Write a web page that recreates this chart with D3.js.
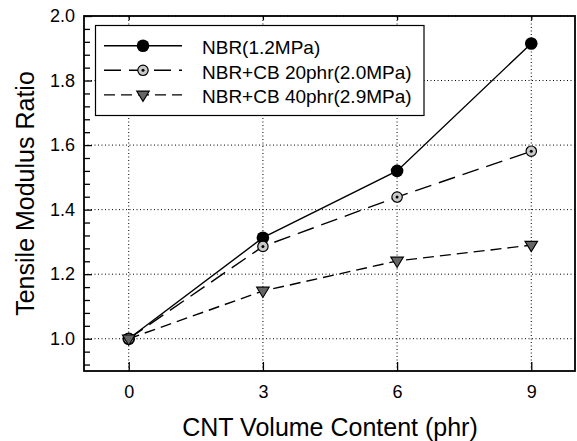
<!DOCTYPE html>
<html><head><meta charset="utf-8">
<script src="https://cdn.jsdelivr.net/npm/d3@7"></script>
<style>body{margin:0;background:#fff}svg{display:block}text{font-family:"Liberation Sans",Arial,sans-serif}</style>
</head><body><div id="chart"></div>
<script>
const xValues = [0, 3, 6, 9];
const nbr = [1.0, 1.313, 1.52, 1.915];
const cb20 = [1.0, 1.286, 1.439, 1.581];
const cb40 = [1.0, 1.148, 1.241, 1.290];
const seriesNames = ["NBR(1.2MPa)", "NBR+CB 20phr(2.0MPa)", "NBR+CB 40phr(2.9MPa)"];
const xTicks = [0, 3, 6, 9];
const yTicks = [1.0, 1.2, 1.4, 1.6, 1.8, 2.0];
const xTitle = "CNT Volume Content (phr)";
const yTitle = "Tensile Modulus Ratio";

const W = 577, H = 441;
const m = {left: 84, right: 1, top: 16, bottom: 70};
const svg = d3.select("#chart").append("svg").attr("width", W).attr("height", H);
const x = d3.scaleLinear().domain([-1, 10]).range([m.left, W - m.right]);
const y = d3.scaleLinear().domain([0.9, 2.0]).range([H - m.bottom, m.top]);

// grid
const g = svg.append("g");
g.selectAll(".gx").data(xTicks).join("line")
  .attr("x1", d => x(d)).attr("x2", d => x(d)).attr("y1", y(0.9)).attr("y2", y(2.0))
  .attr("stroke", "#000").attr("stroke-width", 1).attr("stroke-dasharray", "1,2.5");
g.selectAll(".gy").data(yTicks).join("line")
  .attr("x1", x(-1)).attr("x2", x(10)).attr("y1", d => y(d)).attr("y2", d => y(d))
  .attr("stroke", "#000").attr("stroke-width", 1).attr("stroke-dasharray", "1,2.5");

// axes
const yMinor = d3.range(0.92, 2.0, 0.04).filter(v => Math.abs((v * 5) - Math.round(v * 5)) > 0.01);
svg.append("g").attr("transform", `translate(${x(-1)},0)`)
  .call(d3.axisRight(y).tickValues(yTicks).tickSize(8).tickFormat(""))
  .call(s => s.select(".domain").remove());
svg.append("g").attr("transform", `translate(${x(-1)},0)`)
  .call(d3.axisRight(y).tickValues(yMinor).tickSize(6).tickFormat(""))
  .call(s => s.select(".domain").remove());
svg.append("g").attr("transform", `translate(${x(-1) - 6},0)`)
  .call(d3.axisLeft(y).tickValues(yTicks).tickSize(0).tickFormat(d3.format(".1f")))
  .call(s => s.select(".domain").remove())
  .selectAll("text").attr("font-size", 18).attr("fill", "#000").attr("font-family", "Liberation Sans, Arial");

svg.append("g").attr("transform", `translate(0,${y(0.9)})`)
  .call(d3.axisTop(x).tickValues(xTicks).tickSize(9).tickFormat(""))
  .call(s => s.select(".domain").remove());
svg.append("g").attr("transform", `translate(0,${y(0.9) + 11.5})`)
  .call(d3.axisBottom(x).tickValues(xTicks).tickSize(0).tickFormat(d3.format("d")))
  .call(s => s.select(".domain").remove())
  .selectAll("text").attr("font-size", 18).attr("fill", "#000").attr("font-family", "Liberation Sans, Arial");
svg.append("g").attr("transform", `translate(0,${y(2.0)})`)
  .call(d3.axisBottom(x).tickValues(xTicks).tickSize(4).tickFormat(""))
  .call(s => s.select(".domain").remove());
svg.selectAll(".tick line").attr("stroke", "#000").attr("stroke-width", 1.3);

// frame
svg.append("rect").attr("x", x(-1)).attr("y", y(2.0)).attr("width", x(10) - x(-1) - 1).attr("height", y(0.9) - y(2.0))
  .attr("fill", "none").attr("stroke", "#000").attr("stroke-width", 1.8);

// titles
svg.append("text").attr("x", (x(-1) + x(10)) / 2).attr("y", 436).attr("text-anchor", "middle")
  .attr("font-size", 25).attr("fill", "#000").text(xTitle);
svg.append("text").attr("transform", `translate(34,${(y(0.9) + y(2.0)) / 2}) rotate(-90)`).attr("text-anchor", "middle")
  .attr("font-size", 25).attr("fill", "#000").text(yTitle);

// series
const series = [
  {vals: nbr, dash: null, marker: "circle"},
  {vals: cb20, dash: "17,8", marker: "dot"},
  {vals: cb40, dash: "11,6", marker: "tri"}
];
const line = d3.line().x((d, i) => x(xValues[i])).y(d => y(d));
function drawMarker(sel, type, cx, cy) {
  if (type === "circle") {
    sel.append("circle").attr("cx", cx).attr("cy", cy).attr("r", 6.3).attr("fill", "#000");
  } else if (type === "dot") {
    sel.append("circle").attr("cx", cx).attr("cy", cy).attr("r", 5.2).attr("fill", "#c8c8c8").attr("stroke", "#000").attr("stroke-width", 1.2);
    sel.append("circle").attr("cx", cx).attr("cy", cy).attr("r", 1.5).attr("fill", "#000");
  } else {
    const s = 6.3;
    sel.append("path").attr("d", `M${cx - s},${cy - 3.8}L${cx + s},${cy - 3.8}L${cx},${cy + 6.5}Z`)
      .attr("fill", "#666").attr("stroke", "#000").attr("stroke-width", 1.1);
  }
}
series.forEach(s => {
  svg.append("path").datum(s.vals).attr("d", line).attr("fill", "none").attr("stroke", "#000")
    .attr("stroke-width", 1.4).attr("stroke-dasharray", s.dash);
});
series.forEach(s => {
  const gg = svg.append("g");
  s.vals.forEach((v, i) => drawMarker(gg, s.marker, x(xValues[i]), y(v)));
});

// legend
const lg = svg.append("g");
lg.append("rect").attr("x", 95.5).attr("y", 25.5).attr("width", 328.5).attr("height", 90)
  .attr("fill", "#fff").attr("stroke", "#000").attr("stroke-width", 1.2);
series.forEach((s, i) => {
  const cy = 45.7 + i * 24.6;
  lg.append("line").attr("x1", 104).attr("x2", 182).attr("y1", cy).attr("y2", cy)
    .attr("stroke", "#000").attr("stroke-width", 1.4).attr("stroke-dasharray", s.dash);
  drawMarker(lg, s.marker, 143, cy);
  lg.append("text").attr("x", 202).attr("y", cy + 8.5).attr("font-size", 19).attr("fill", "#000").text(seriesNames[i]);
});
</script></body></html>
